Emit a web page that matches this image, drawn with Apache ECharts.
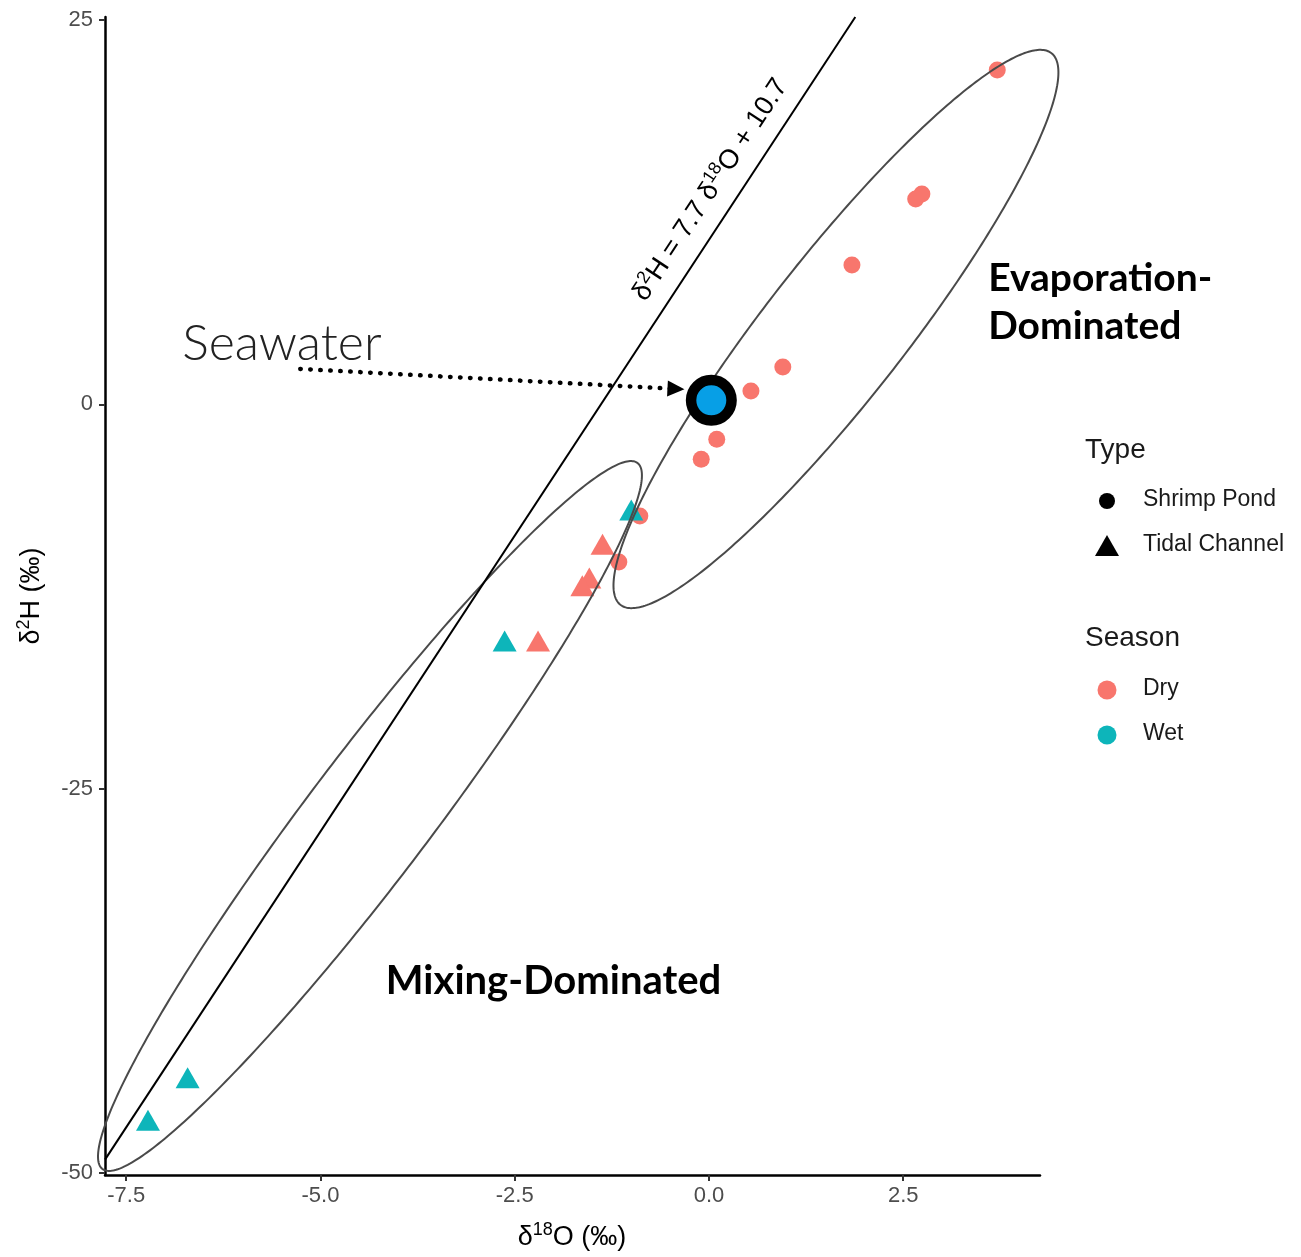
<!DOCTYPE html>
<html>
<head>
<meta charset="utf-8">
<script src="https://cdn.jsdelivr.net/npm/echarts@6/dist/echarts.min.js"></script>
<style>
  html, body { margin: 0; padding: 0; background: #ffffff; }
  #main { width: 1301px; height: 1257px; }
</style>
</head>
<body>
<div id="main"></div>
<script>
// Shrimp pond samples (all collected in the dry season): δ18O and δ2H, ‰
const pondDryO = [3.71, 2.74, 2.66, 1.84, 0.95, 0.54, 0.10, -0.10, -0.89, -1.16];
const pondDryH = [21.75, 13.68, 13.35, 9.06, 2.43, 0.87, -2.27, -3.57, -7.27, -10.26];

// Tidal channel samples
const channelDryO = [-1.37, -1.54, -1.63, -2.20];
const channelDryH = [-9.11, -11.30, -11.80, -15.40];
const channelWetO = [-1.00, -2.63, -6.71, -7.22];
const channelWetH = [-6.88, -15.40, -43.83, -46.58];

// Seawater reference sample
const seawaterO = [0.03];
const seawaterH = [0.26];

// Local meteoric water line: δ2H = 7.7 δ18O + 10.7
const lmwlSlope = 7.7;
const lmwlIntercept = 10.7;

// 95% ellipses: centre and Cholesky factors of the shape matrix (‰)
const ellipseEvapCentre = [1.634, 4.90];
const ellipseEvapChol = [2.863, 16.69, 7.17];
const ellipseMixCentre = [-4.363, -26.79];
const ellipseMixChol = [3.50, 22.16, 6.51];

// Axis ranges and tick labels
const xRange = [-7.773, 4.26];
const yRange = [-50.15, 25.2];
const xTicks = [-7.5, -5.0, -2.5, 0.0, 2.5];
const yTicks = [-50, -25, 0, 25];

const COL_DRY = '#F8766D';
const COL_WET = '#0DB5BA';
const COL_SEA = '#079FE6';
const FONT = '"Liberation Sans", Arial, sans-serif';
const BOLD_FONT = 'Lato, "Open Sans", sans-serif';

function zip(a, b) { return a.map((v, i) => [v, b[i]]); }

function ellipsePath(c, r, n) {
  const pts = [];
  for (let i = 0; i <= n; i++) {
    const t = 2 * Math.PI * i / n;
    pts.push([c[0] + r[0] * Math.cos(t), c[1] + r[1] * Math.cos(t) + r[2] * Math.sin(t)]);
  }
  return pts;
}

const ellipses = [
  ellipsePath(ellipseEvapCentre, ellipseEvapChol, 360),
  ellipsePath(ellipseMixCentre, ellipseMixChol, 360)
];

const lmwlPts = [
  [xRange[0], lmwlSlope * xRange[0] + lmwlIntercept],
  [(yRange[1] - lmwlIntercept) / lmwlSlope, yRange[1]]
];

const chart = echarts.init(document.getElementById('main'), null, { renderer: 'canvas' });

const axisCommon = {
  type: 'value',
  splitLine: { show: false },
  axisLine: { show: true, onZero: false, lineStyle: { color: '#000', width: 2.5 } },
  axisTick: { show: true, length: 6, lineStyle: { color: '#333', width: 2 } },
  axisLabel: { color: '#4d4d4d', fontSize: 22, fontFamily: FONT }
};

chart.setOption({
  animation: false,
  backgroundColor: '#ffffff',
  grid: { left: 105, top: 17, right: 261, bottom: 82, containLabel: false },
  xAxis: echarts.util.merge({
    min: xRange[0], max: xRange[1],
    axisTick: { customValues: xTicks },
    axisLabel: { customValues: xTicks, margin: 10, formatter: v => v.toFixed(1) }
  }, axisCommon),
  yAxis: echarts.util.merge({
    min: yRange[0], max: yRange[1],
    axisTick: { customValues: yTicks },
    axisLabel: { customValues: yTicks, margin: 12, formatter: v => String(v) }
  }, axisCommon),
  series: [
    {
      name: 'Shrimp Pond – Dry', type: 'scatter', symbol: 'circle', symbolSize: 17,
      itemStyle: { color: COL_DRY, opacity: 1 }, data: zip(pondDryO, pondDryH), z: 3
    },
    {
      name: 'Tidal Channel – Dry', type: 'scatter', symbol: 'triangle', symbolSize: [24, 21],
      itemStyle: { color: COL_DRY, opacity: 1 }, data: zip(channelDryO, channelDryH), z: 3
    },
    {
      name: 'Tidal Channel – Wet', type: 'scatter', symbol: 'triangle', symbolSize: [24, 21],
      itemStyle: { color: COL_WET, opacity: 1 }, data: zip(channelWetO, channelWetH), z: 3
    },
    {
      // group ellipses, drawn as closed outlines through the cartesian scales
      name: 'Ellipses', type: 'custom', clip: false, silent: true, z: 4,
      data: ellipses.map((_, i) => [i]),
      encode: { x: -1, y: -1 },
      renderItem: function (params, api) {
        const path = ellipses[params.dataIndex];
        return {
          type: 'polyline',
          shape: { points: path.map(p => api.coord(p)) },
          style: { stroke: '#4a4a4a', lineWidth: 2, fill: null }
        };
      }
    },
    {
      name: 'LMWL', type: 'line', showSymbol: false, clip: true, silent: true,
      lineStyle: { color: '#000', width: 2 }, data: lmwlPts, z: 4
    },
    {
      name: 'Seawater', type: 'scatter', symbol: 'circle', symbolSize: 40.5,
      itemStyle: { color: COL_SEA, borderColor: '#000', borderWidth: 10.5, opacity: 1 },
      data: zip(seawaterO, seawaterH), z: 6,
      markLine: {
        silent: true, animation: false,
        symbol: ['none', 'triangle'], symbolSize: [16, 17],
        label: { show: false },
        lineStyle: { color: '#000', width: 4.5, type: [0.5, 9.5], cap: 'round' },
        data: [[{ coord: [-5.26, 2.30] }, { coord: [-0.425, 1.0] }]]
      }
    }
  ]
});

// Annotations and legend
function px(x, y) { return chart.convertToPixel({ gridIndex: 0 }, [x, y]); }

const p0 = px(0, lmwlIntercept);
const p1 = px(1, lmwlSlope + lmwlIntercept);
const lmwlAngle = Math.atan2(p0[1] - p1[1], p1[0] - p0[0]);
const eqPos = px(0.02, 13.95);

const supRich = (size, lh) => ({
  n: { fontSize: size, fontFamily: FONT, fill: '#000', lineHeight: lh, verticalAlign: 'middle' },
  s: { fontSize: Math.round(size * 0.65), fontFamily: FONT, fill: '#000', lineHeight: Math.round(size * 0.7), verticalAlign: 'top' }
});

const evapPos = px(3.593, 9.75);
const mixPos = px(-2.0, -37.55);
const seaPos = px(-6.78, 3.9);

const legendItems = [
  { type: 'text', left: 1085, top: 436, style: { text: 'Type', fontSize: 28, fontFamily: FONT, fill: '#1a1a1a' } },
  { type: 'circle', shape: { cx: 1107, cy: 501, r: 8 }, style: { fill: '#000' } },
  { type: 'text', left: 1143, top: 488, style: { text: 'Shrimp Pond', fontSize: 23, fontFamily: FONT, fill: '#1a1a1a' } },
  { type: 'polygon', shape: { points: [[1107, 535], [1119, 556], [1095, 556]] }, style: { fill: '#000' } },
  { type: 'text', left: 1143, top: 533, style: { text: 'Tidal Channel', fontSize: 23, fontFamily: FONT, fill: '#1a1a1a' } },
  { type: 'text', left: 1085, top: 624, style: { text: 'Season', fontSize: 28, fontFamily: FONT, fill: '#1a1a1a' } },
  { type: 'circle', shape: { cx: 1107, cy: 690, r: 9.5 }, style: { fill: COL_DRY } },
  { type: 'text', left: 1143, top: 677, style: { text: 'Dry', fontSize: 23, fontFamily: FONT, fill: '#1a1a1a' } },
  { type: 'circle', shape: { cx: 1107, cy: 735, r: 9.5 }, style: { fill: COL_WET } },
  { type: 'text', left: 1143, top: 722, style: { text: 'Wet', fontSize: 23, fontFamily: FONT, fill: '#1a1a1a' } }
];

chart.setOption({
  graphic: [
    {
      type: 'text', x: eqPos[0], y: eqPos[1], rotation: lmwlAngle,
      style: {
        text: '{n|δ}{s|2}{n|H = 7.7 δ}{s|18}{n|O + 10.7}',
        rich: supRich(27, 33), align: 'center', verticalAlign: 'middle'
      }
    },
    {
      type: 'text', x: evapPos[0], y: evapPos[1],
      style: {
        text: 'Evaporation-\nDominated', fontSize: 39, fontWeight: 'bold', lineHeight: 48,
        fontFamily: BOLD_FONT, fill: '#000', align: 'left', verticalAlign: 'top'
      }
    },
    {
      type: 'text', x: mixPos[0], y: mixPos[1],
      style: {
        text: 'Mixing-Dominated', fontSize: 40, fontWeight: 'bold',
        fontFamily: BOLD_FONT, fill: '#000', align: 'center', verticalAlign: 'middle'
      }
    },
    {
      type: 'text', x: seaPos[0], y: seaPos[1],
      style: {
        text: 'Seawater', fontSize: 50, fontWeight: 300,
        fontFamily: 'Lato, "DejaVu Sans", sans-serif', fill: '#222', align: 'left', verticalAlign: 'middle'
      }
    },
    {
      type: 'text', x: 572, y: 1238,
      style: {
        text: '{n|δ}{s|18}{n|O (‰)}', rich: supRich(27, 34), align: 'center', verticalAlign: 'middle'
      }
    },
    {
      type: 'text', x: 32, y: 596, rotation: Math.PI / 2,
      style: {
        text: '{n|δ}{s|2}{n|H (‰)}', rich: supRich(27, 34), align: 'center', verticalAlign: 'middle'
      }
    }
  ].concat(legendItems)
});
</script>
</body>
</html>
